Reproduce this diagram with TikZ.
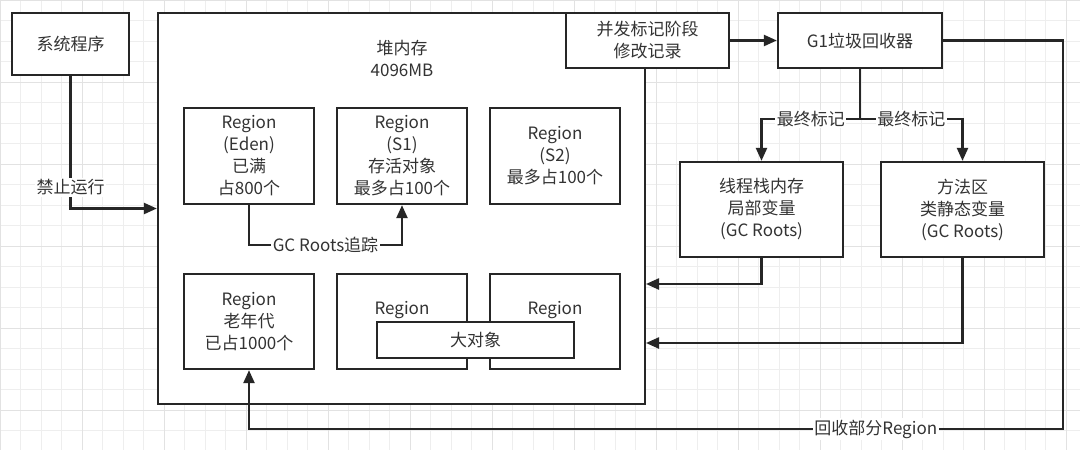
\documentclass[tikz,border=0pt]{standalone}
\usepackage{fontspec}
\setmainfont{Noto Sans CJK SC}
\usepackage{xcolor}
\usetikzlibrary{arrows.meta}

\definecolor{ink}{HTML}{262626}
\definecolor{txt}{HTML}{333333}
\definecolor{gridc}{HTML}{EEEEEE}
\definecolor{gridm}{HTML}{E2E2E2}

\begin{document}
\begin{tikzpicture}[
  x=1pt, y=-1pt,
  font=\fontsize{17}{22}\selectfont,
  box/.style   = {draw=ink, line width=2.3pt, fill=white, align=center,
                  inner sep=0pt, text=txt},
  reg/.style   = {box, minimum width=130pt, minimum height=96pt},
  side/.style  = {box, minimum width=163pt, minimum height=95pt},
  arr/.style   = {-{Triangle[length=13pt,width=11pt]}, line width=2.3pt, draw=ink},
  lbl/.style   = {fill=white, inner sep=1.5pt, text=txt},
  note/.style  = {text=txt, align=center, inner sep=0pt}
]
\useasboundingbox (0,0) rectangle (1080,450);
%% Background grid
\fill[white] (0,0) rectangle (1080,450);
\draw[gridc, line width=0.8pt, step=20.5pt] (0,0) grid (1080,450);
\draw[gridm, line width=1pt, step=82pt] (0,0) grid (1080,450);
%% Outer boxes
\node[box, minimum width=117pt, minimum height=62pt] (sys) at (70.5,44) {系统程序};
\node[box, minimum width=487pt, minimum height=391pt] (heap) at (401.5,208.5) {};
\node[note] (heapt) at (402,58) {堆内存\\4096MB};
%% Regions in the heap
\node[reg] (eden) at (249,156) {Region\\(Eden)\\已满\\占800个};
\node[reg] (s1)   at (402,156) {Region\\(S1)\\存活对象\\最多占100个};
\node[reg] (s2)   at (555,156) {Region\\(S2)\\最多占100个};
\node[reg, minimum height=95pt] (old)  at (249,321.5) {Region\\老年代\\已占1000个};
\node[reg, minimum height=95pt] (rmid) at (402,321.5) {};
\node[reg, minimum height=95pt] (rrt)  at (555,321.5) {};
\node[note] (rmidt) at (402,310) {Region};
\node[note] (rrtt)  at (555,310) {Region};
\node[box, minimum width=197pt, minimum height=36pt] (big) at (475.5,340) {大对象};
%% Collector side
\node[box, minimum width=163pt, minimum height=55pt] (conc) at (647.5,40.5) {并发标记阶段\\修改记录};
\node[box, minimum width=164pt, minimum height=55pt] (g1) at (860,40.5) {G1垃圾回收器};
\node[side] (thr)  at (761.5,209.5) {线程栈内存\\局部变量\\(GC Roots)};
\node[side] (meth) at (962.5,209.5) {方法区\\类静态变量\\(GC Roots)};
\coordinate (in1) at (646,284);
\coordinate (in2) at (646,343);
\coordinate (rc)  at (1063,429);
%% Connectors
\draw[arr] (sys.south) |- node[lbl, pos=0.42]{禁止运行} (heap.west);
\draw[arr] (eden.south) -- ++(0,40) -| node[lbl, pos=0.25]{GC Roots追踪} (s1.south);
\draw[arr] (conc) -- (g1);
\draw[arr] (g1.south) -- ++(0,50) -| node[lbl, pos=0.25]{最终标记} (thr.north);
\draw[arr] (g1.south) -- ++(0,50) -| node[lbl, pos=0.25]{最终标记} (meth.north);
\draw[arr] (thr.south) |- (in1);
\draw[arr] (meth.south) |- (in2);
\draw[arr] (g1.east) -| (rc) -| node[lbl, pos=0.115]{回收部分Region} (old.south);
\end{tikzpicture}
\end{document}
